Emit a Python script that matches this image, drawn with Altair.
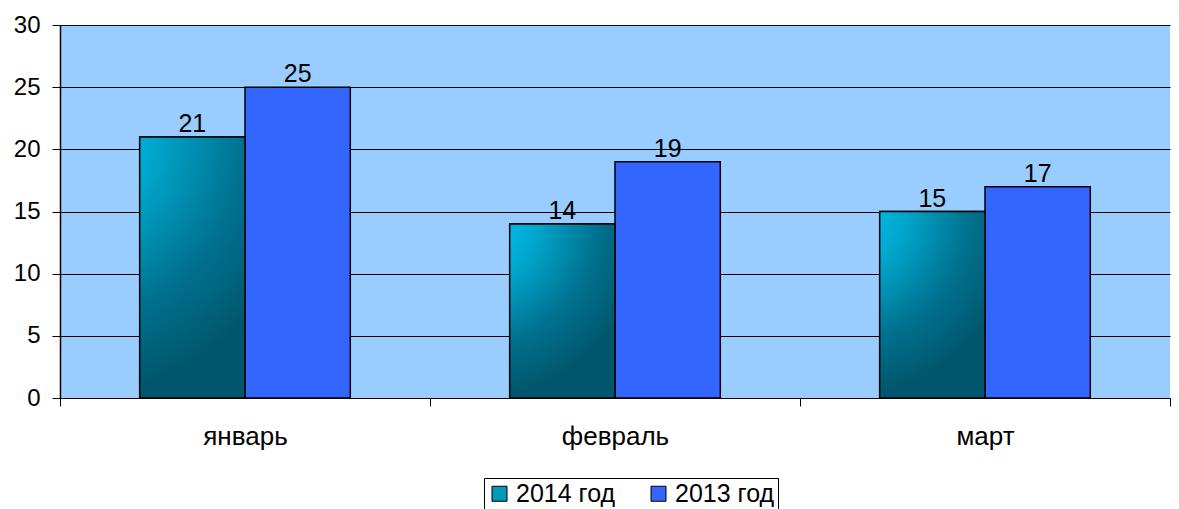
import altair as alt
import pandas as pd

months = ["январь", "февраль", "март"]
series = ["2014 год", "2013 год"]
v2014 = [21, 14, 15]
v2013 = [25, 19, 17]
y_ticks = [0, 5, 10, 15, 20, 25, 30]

rows = []
for i, m in enumerate(months):
    rows.append({"month": m, "series": series[0], "value": v2014[i]})
    rows.append({"month": m, "series": series[1], "value": v2013[i]})
df = pd.DataFrame(rows)

FONT = "Liberation Sans"

grad = {
    "gradient": "radial",
    "x1": 0, "y1": 0, "r1": 0,
    "x2": 0, "y2": 0, "r2": 1,
    "stops": [
        {"offset": 0, "color": "#00CCFF"},
        {"offset": 0.35, "color": "#00A6CC"},
        {"offset": 0.7, "color": "#00718F"},
        {"offset": 1, "color": "#00566C"},
    ],
}

x_enc = alt.X("month:N", sort=months, title=None,
              scale=alt.Scale(paddingInner=0, paddingOuter=0),
              axis=alt.Axis(labelAngle=0, labelFont=FONT, labelFontSize=26,
                            labelColor="black", domainColor="black", tickColor="black",
                            tickSize=8, tickBand="extent", labelPadding=17,
                            domainWidth=1, tickWidth=1))
xo_enc = alt.XOffset("series:N", sort=series,
                     scale=alt.Scale(domain=series, paddingInner=0, paddingOuter=0.757))
y_enc = alt.Y("value:Q", title=None,
              scale=alt.Scale(domain=[0, 30], nice=False),
              axis=alt.Axis(values=y_ticks, labelFont=FONT, labelFontSize=24,
                            labelColor="black", domainColor="black", tickColor="black",
                            tickSize=8, labelPadding=12, gridColor="black",
                            gridWidth=1, gridOpacity=1, domainWidth=1.5))

base = alt.Chart(df)

bars = base.mark_bar(stroke="black", strokeWidth=1.5).encode(
    x=x_enc, xOffset=xo_enc, y=y_enc,
    color=alt.Color("series:N", sort=series,
                    scale=alt.Scale(domain=series, range=["#0099B8", "#3366FF"]),
                    legend=alt.Legend(title=None, orient="none", legendX=424, legendY=453,
                                      direction="horizontal", strokeColor="black",
                                      fillColor="white", padding=3,
                                      labelFont=FONT, labelFontSize=25, labelColor="black",
                                      symbolType="square", symbolSize=225,
                                      symbolStrokeColor="black", symbolStrokeWidth=1,
                                      columnPadding=30, labelOffset=4)),
)

grad_bars = base.transform_filter(alt.datum.series == series[0]).mark_bar(
    stroke="black", strokeWidth=1.5
).encode(x=x_enc, xOffset=xo_enc, y=y_enc, fill=alt.value(grad))

labels = base.mark_text(baseline="alphabetic", dy=-5, font=FONT, fontSize=25, color="black").encode(
    x=x_enc, xOffset=xo_enc, y=y_enc, text="value:Q"
)

chart = alt.layer(bars, grad_bars, labels).properties(
    width=1110, height=373,
    autosize=alt.AutoSizeParams(type="none"),
    padding={"left": 52, "top": 17, "right": 1, "bottom": 111},
    background="white",
).configure_view(fill="#99CCFF", stroke=None)

chart.save("out.html", embed_options={"renderer": "svg", "actions": False})
